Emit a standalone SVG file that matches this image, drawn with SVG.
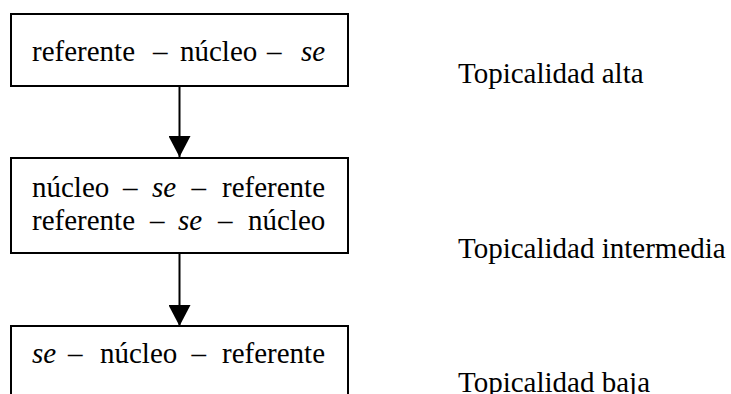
<svg xmlns="http://www.w3.org/2000/svg" width="731" height="394" viewBox="0 0 731 394">
<style>
.box{fill:#fff;stroke:#000;stroke-width:2}
.t{font-family:"Liberation Serif","Times New Roman",serif;font-size:29px;fill:#000}
.i{font-style:italic}
.conn{stroke:#000;stroke-width:2;fill:none}
</style>
<defs>
<marker id="arr" markerUnits="userSpaceOnUse" markerWidth="22" markerHeight="22" viewBox="0 0 22 22" refX="21" refY="11" orient="auto">
<path d="M0,0 L21,11 L0,22 Z" fill="#000"/>
</marker>
</defs>
<rect width="731" height="394" fill="#fff"/>
<g id="connectors">
<line class="conn" x1="179.5" y1="86" x2="179.5" y2="157" marker-end="url(#arr)"/>
<line class="conn" x1="179.5" y1="253" x2="179.5" y2="326" marker-end="url(#arr)"/>
</g>
<g id="n1">
<rect class="box" x="11" y="14" width="337" height="72"/>
<text class="t" y="61"><tspan x="32">referente</tspan><tspan x="153">–</tspan><tspan x="180">núcleo</tspan><tspan x="267">–</tspan><tspan class="i" x="301">se</tspan></text>
</g>
<g id="n2">
<rect class="box" x="11" y="158" width="337" height="95"/>
<text class="t" y="197"><tspan x="32">núcleo</tspan><tspan x="123">–</tspan><tspan class="i" x="152">se</tspan><tspan x="191.5">–</tspan><tspan x="222">referente</tspan></text>
<text class="t" y="230"><tspan x="32">referente</tspan><tspan x="150">–</tspan><tspan class="i" x="178">se</tspan><tspan x="218">–</tspan><tspan x="248">núcleo</tspan></text>
</g>
<g id="n3">
<rect class="box" x="11" y="326" width="337" height="80"/>
<text class="t" y="363"><tspan class="i" x="32">se</tspan><tspan x="68">–</tspan><tspan x="100">núcleo</tspan><tspan x="191.5">–</tspan><tspan x="222">referente</tspan></text>
</g>
<g id="labels">
<text class="t" x="458" y="83">Topicalidad alta</text>
<text class="t" x="458" y="258">Topicalidad intermedia</text>
<text class="t" x="458" y="392">Topicalidad baja</text>
</g>
</svg>
